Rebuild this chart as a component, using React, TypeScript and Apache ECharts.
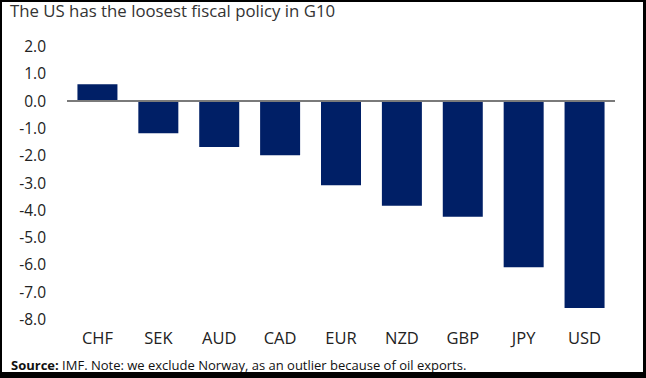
import React, { useEffect, useRef } from "react";
import * as echarts from "echarts";

const categories = ["CHF", "SEK", "AUD", "CAD", "EUR", "NZD", "GBP", "JPY", "USD"];
const values = [0.6, -1.2, -1.7, -2.0, -3.1, -3.85, -4.25, -6.1, -7.6];
const yMin = -8;
const yMax = 2;
const yInterval = 1;
const titleText = "The US has the loosest fiscal policy in G10";
const sourceLabel = "Source:";
const sourceText = " IMF. Note: we exclude Norway, as an outlier because of oil exports.";

const FONT = "'Open Sans', 'Noto Sans', sans-serif";

export default function App() {
  const ref = useRef<HTMLDivElement>(null);
  useEffect(() => {
    document.body.style.margin = "0";
    const chart = echarts.init(ref.current!, null, { renderer: "svg" });
    chart.setOption({
      animation: false,
      backgroundColor: "#ffffff",
      grid: { left: 67, right: 31, top: 46, bottom: 59, containLabel: false },
      xAxis: {
        type: "category",
        data: categories,
        axisLine: { show: false, onZero: false },
        axisTick: { show: false },
        axisLabel: { color: "#222", fontSize: 16.5, fontFamily: FONT, margin: 10 },
        splitLine: { show: false },
      },
      yAxis: {
        type: "value",
        min: yMin,
        max: yMax,
        interval: yInterval,
        axisLine: { show: false },
        axisTick: { show: false },
        splitLine: { show: false },
        axisLabel: {
          color: "#222",
          fontSize: 15.5,
          fontFamily: FONT,
          margin: 21,
          formatter: (v: number) => v.toFixed(1),
        },
      },
      series: [
        {
          type: "bar",
          data: values,
          barWidth: 40,
          itemStyle: { color: "#001F66" },
          markLine: {
            silent: true,
            symbol: "none",
            label: { show: false },
            lineStyle: { color: "#7a7a7a", width: 2, type: "solid" },
            data: [{ yAxis: 0 }],
          },
        },
      ],
      graphic: [
        {
          type: "text",
          left: 10,
          top: 2,
          style: { text: titleText, fontSize: 16.8, fontFamily: FONT, fill: "#333" },
        },
        {
          type: "text",
          left: 11,
          top: 358,
          style: {
            text: "{b|" + sourceLabel + "}{n|" + sourceText + "}",
            fontFamily: FONT,
            rich: {
              b: { fontSize: 13, fontWeight: "bold", fontFamily: FONT, fill: "#111" },
              n: { fontSize: 13, fontFamily: FONT, fill: "#111" },
            },
          },
        },
        { type: "rect", shape: { x: 0, y: 0, width: 646, height: 2 }, style: { fill: "#000" } },
        { type: "rect", shape: { x: 0, y: 0, width: 2, height: 378 }, style: { fill: "#000" } },
        { type: "rect", shape: { x: 643, y: 0, width: 3, height: 378 }, style: { fill: "#000" } },
        { type: "rect", shape: { x: 0, y: 372, width: 646, height: 6 }, style: { fill: "#000" } },
      ],
    });
    return () => chart.dispose();
  }, []);
  return <div ref={ref} style={{ width: 646, height: 378, position: "fixed", left: 0, top: 0 }} />;
}
